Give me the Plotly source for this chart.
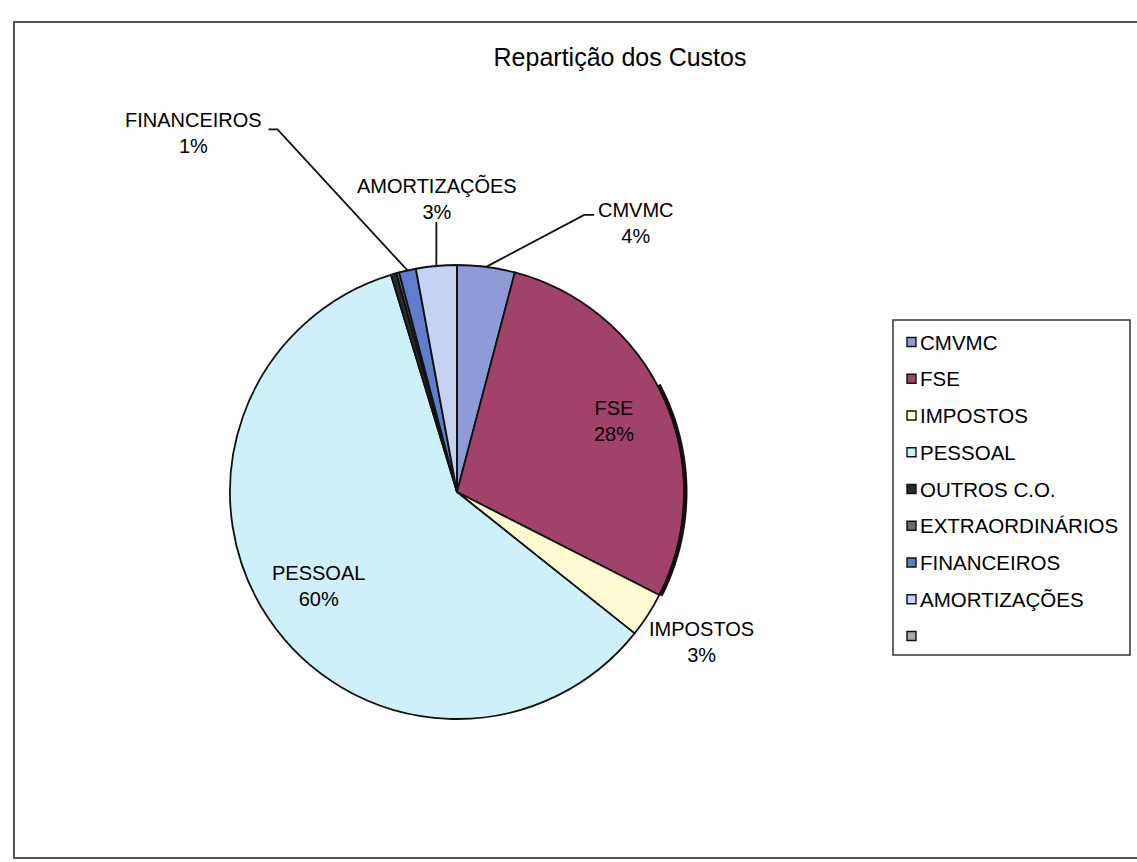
import math
import plotly.graph_objects as go

# ---------------- data ----------------
categories = ["CMVMC", "FSE", "IMPOSTOS", "PESSOAL", "OUTROS C.O.",
              "EXTRAORDINÁRIOS", "FINANCEIROS", "AMORTIZAÇÕES", ""]
values = [4.1, 28.4, 3.2, 59.6, 0.4, 0.2, 1.2, 2.9, 0.0]
colors = ["#8E9BD6", "#A0426A", "#FFFCD4", "#CDF0FB", "#2A2A2A",
          "#6E6478", "#5F7DCC", "#C6D2F2", "#A8A8A8"]
title_text = "Repartição dos Custos"

# ---------------- layout constants (pixels) ----------------
W, H = 1137, 862
CX, CY, R = 457, 492, 227
FONT = "Liberation Sans, Arial, sans-serif"
LABEL_SIZE = 20
LEGEND_SIZE = 20.5

def px(x):
    return x / W

def py(y):
    return 1 - y / H

total = sum(values)
pcts = [v / total * 100 for v in values]

# start / mid angles (clockwise from 12 o'clock) of every slice
cum = 0.0
starts, mids, ends = [], [], []
for v in values:
    starts.append(cum / total * 2 * math.pi)
    mids.append((cum + v / 2) / total * 2 * math.pi)
    cum += v
    ends.append(cum / total * 2 * math.pi)

def polar(a, r):
    return CX + r * math.sin(a), CY - r * math.cos(a)

def edge(i, f=1.0):
    return polar(mids[i], f * R)

fig = go.Figure()
fig.add_trace(go.Pie(
    labels=categories, values=values, sort=False, direction="clockwise",
    rotation=0, textinfo="none", hoverinfo="label+percent",
    marker=dict(colors=colors, line=dict(color="#111111", width=1.8)),
    domain=dict(x=[px(CX - R), px(CX + R)], y=[py(CY + R), py(CY - R)]),
    showlegend=False,
))

shapes = []
annotations = []

# frame
shapes.append(dict(type="rect", xref="paper", yref="paper",
                   x0=px(14), x1=px(1150), y0=py(858), y1=py(22),
                   line=dict(color="#555555", width=2)))

# dark shaded rim on the outer edge of FSE
a1 = ends[1]
a0 = a1 - math.radians(55)
pts = [polar(a0 + (a1 - a0) * k / 40, R + 1.5) for k in range(41)]
shapes.append(dict(type="path", xref="paper", yref="paper",
                   path=" ".join(("M" if k == 0 else "L") + f" {px(x)} {py(y)}"
                                 for k, (x, y) in enumerate(pts)),
                   line=dict(color="#111111", width=4)))

# data labels: (index, text offset, leader polyline offsets) / inside radial factor
outside = {
    0: ((150, -44), [(0, 0), (98, -52), (108, -52)]),
    7: ((1, -67), [(0, 0), (0, -44)]),
    6: ((-214, -137), [(0, 0), (-130, -141), (-139, -141)]),
    2: ((54, 27), None),
}
inside = {1: 0.76, 3: 0.74}

for i, (toff, line) in outside.items():
    ax_, ay_ = edge(i)
    annotations.append(dict(
        x=px(ax_ + toff[0]), y=py(ay_ + toff[1]), xref="paper", yref="paper",
        text=f"{categories[i]}<br>{pcts[i]:.0f}%", showarrow=False,
        xanchor="center", yanchor="middle",
        font=dict(family=FONT, size=LABEL_SIZE, color="#000000")))
    if line:
        path = " ".join(("M" if k == 0 else "L") + f" {px(ax_ + dx)} {py(ay_ + dy)}"
                        for k, (dx, dy) in enumerate(line))
        shapes.append(dict(type="path", xref="paper", yref="paper", path=path,
                           line=dict(color="#111111", width=1.8)))

for i, f in inside.items():
    x_, y_ = edge(i, f)
    annotations.append(dict(
        x=px(x_), y=py(y_), xref="paper", yref="paper",
        text=f"{categories[i]}<br>{pcts[i]:.0f}%", showarrow=False,
        xanchor="center", yanchor="middle",
        font=dict(family=FONT, size=LABEL_SIZE, color="#000000")))

# legend (manual)
LX0, LY0, LX1, LY1 = 893, 320, 1130, 655
shapes.append(dict(type="rect", xref="paper", yref="paper",
                   x0=px(LX0), x1=px(LX1), y0=py(LY1), y1=py(LY0),
                   line=dict(color="#333333", width=1.5), fillcolor="white"))
ROW0, STEP = 342, 36.75
for k, (lab, col) in enumerate(zip(categories, colors)):
    yc = ROW0 + k * STEP
    shapes.append(dict(type="rect", xref="paper", yref="paper",
                       x0=px(907), x1=px(916), y0=py(yc + 4.5), y1=py(yc - 4.5),
                       line=dict(color="#111111", width=1.4), fillcolor=col))
    if lab:
        annotations.append(dict(
            x=px(918), y=py(yc), xref="paper", yref="paper", text=lab,
            showarrow=False, xanchor="left", yanchor="middle",
            font=dict(family=FONT, size=LEGEND_SIZE, color="#000000")))

fig.update_layout(
    width=W, height=H, margin=dict(l=0, r=0, t=0, b=0),
    paper_bgcolor="white", plot_bgcolor="white",
    title=dict(text=title_text, x=px(620), y=py(57), xanchor="center",
               yanchor="middle", font=dict(family=FONT, size=25, color="#000000")),
    shapes=shapes, annotations=annotations,
)

fig.write_html("out.html")
